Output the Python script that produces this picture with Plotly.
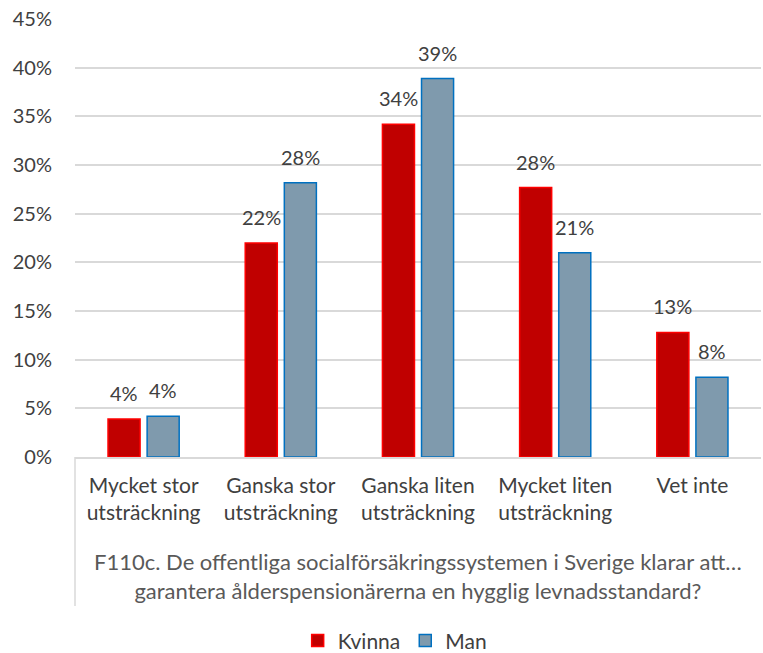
import plotly.graph_objects as go

categories = ["Mycket stor<br>utsträckning", "Ganska stor<br>utsträckning", "Ganska liten<br>utsträckning",
              "Mycket liten<br>utsträckning", "Vet inte"]
kvinna = [3.9, 22.0, 34.2, 27.7, 12.8]
man = [4.2, 28.2, 38.9, 21.0, 8.2]
kvinna_labels = ["4%", "22%", "34%", "28%", "13%"]
man_labels = ["4%", "28%", "39%", "21%", "8%"]
y_ticks = [0, 5, 10, 15, 20, 25, 30, 35, 40, 45]
axis_title = "F110c. De offentliga socialförsäkringssystemen i Sverige klarar att…<br>garantera ålderspensionärerna en hygglig levnadsstandard?"

FONT = "Lato, Open Sans, sans-serif"
TXT = "#404040"

fig = go.Figure()
fig.add_trace(go.Bar(name="Kvinna", x=categories, y=kvinna,
                     marker=dict(color="#C00000", line=dict(color="#FF0000", width=1.5))))
fig.add_trace(go.Bar(name="Man", x=categories, y=man,
                     marker=dict(color="#7F9AAD", line=dict(color="#0070C0", width=1.5))))

for series, labels, shift in [(kvinna, kvinna_labels, -19.5), (man, man_labels, 19.5)]:
    for c, v, t in zip(categories, series, labels):
        fig.add_annotation(x=c, y=v, xref="x", yref="y", text=t, showarrow=False,
                           xshift=shift, yshift=12, yanchor="bottom",
                           font=dict(size=20, color=TXT, family=FONT))

fig.update_layout(
    width=763, height=653,
    margin=dict(l=75, r=2, t=19, b=196, autoexpand=False),
    paper_bgcolor="white", plot_bgcolor="white",
    barmode="group", bargap=0.43, bargroupgap=0.18,
    font=dict(family=FONT, size=20, color=TXT),
    showlegend=True,
    legend=dict(orientation="h", x=0.466, xanchor="center", y=-0.42, yanchor="middle",
                font=dict(size=21, color=TXT), itemwidth=30, traceorder="normal"),
    xaxis=dict(showline=True, linecolor="#D9D9D9", linewidth=1.5, ticks="",
               tickfont=dict(size=21, color=TXT), showgrid=False, automargin=False,
               ticklabelstandoff=9),
    yaxis=dict(range=[0, 45.02], tickvals=y_ticks, ticktext=[f"{v}%" for v in y_ticks],
               showgrid=True, gridcolor="#D9D9D9", gridwidth=1.5, zeroline=False,
               showline=False, ticks="", tickfont=dict(size=20, color=TXT),
               ticklabelstandoff=22, automargin=False, ticklabeloverflow="allow"),
)
fig.add_annotation(text=axis_title, x=0.5, xref="paper", y=-0.272, yref="paper",
                   yanchor="middle", showarrow=False, font=dict(size=22, color="#595959", family=FONT))
fig.add_shape(type="line", xref="paper", yref="paper", x0=0, x1=0, y0=0, y1=-0.34,
              line=dict(color="#D9D9D9", width=1.5))
# remove the page's default 8px body margin so the figure fills the window exactly
fig.write_html("out.html", config={"displayModeBar": False},
               post_script="document.body.style.margin='0px';")
